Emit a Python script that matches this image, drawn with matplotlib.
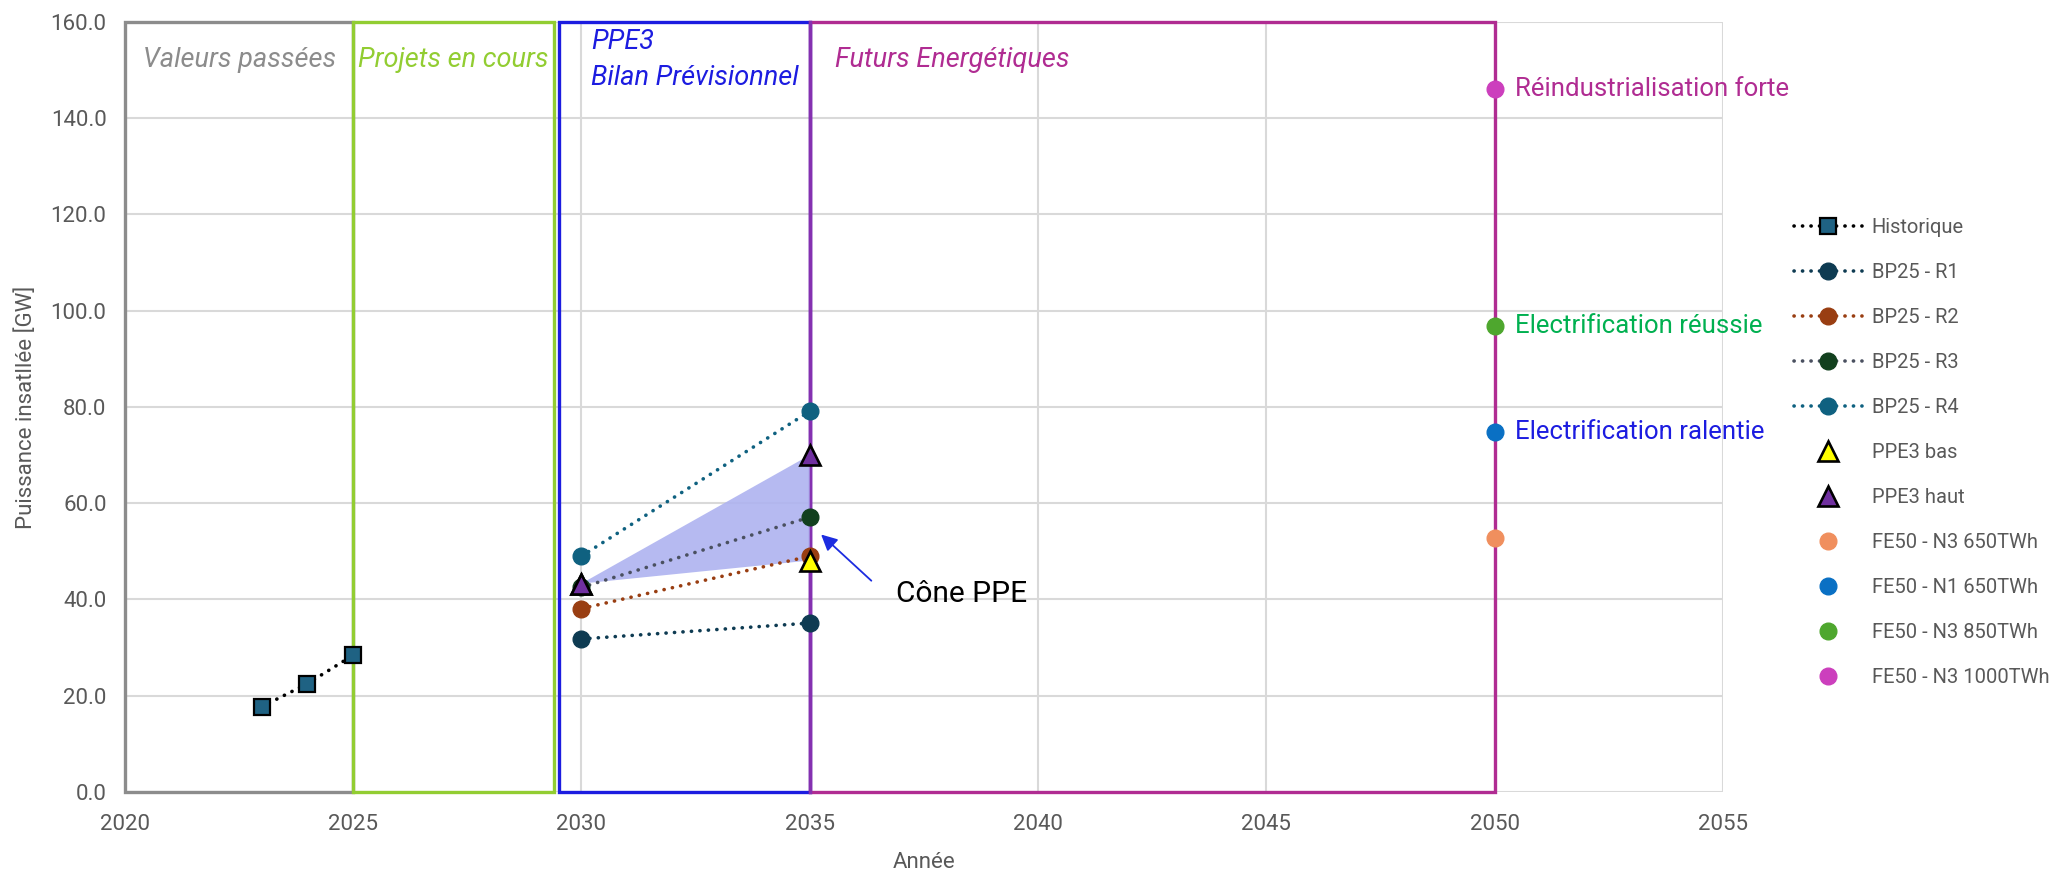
import matplotlib
matplotlib.use('Agg')
import matplotlib.pyplot as plt
from matplotlib.patches import Rectangle, Polygon
from matplotlib.ticker import FormatStrFormatter

plt.rcParams['font.family'] = ['Roboto', 'DejaVu Sans']

# Data
hist_years = [2023, 2024, 2025]
hist_values = [17.7, 22.5, 28.4]

bp_years = [2030, 2035]
bp25_r1 = [31.8, 35.1]
bp25_r2 = [38.1, 49.0]
bp25_r3 = [42.5, 57.1]
bp25_r4 = [49.0, 79.1]

ppe_years = [2030, 2035]
ppe3_bas = [43.3, 48.1]
ppe3_haut = [43.3, 70.0]

fe_year = 2050
fe50_n3_650 = 52.8
fe50_n1_650 = 74.7
fe50_n3_850 = 96.8
fe50_n3_1000 = 146.1

# Periods (start, end, label, colour, label offset)
periods = [
    (2020, 2025, 'Valeurs passées', '#8C8C8C', 0.4),
    (2025, 2029.4, 'Projets en cours', '#92CD32', 0.1),
    (2029.52, 2035, 'PPE3\nBilan Prévisionnel', '#1C1CE0', 0.7),
    (2035, 2050, 'Futurs Energétiques', '#B02C92', 0.55),
]

fig = plt.figure(figsize=(20.56, 8.73), dpi=100)
ax = fig.add_axes([0.0606, 0.0928, 0.7775, 0.882])

ax.set_xlim(2020, 2055)
ax.set_ylim(0, 160)
ax.set_xticks(range(2020, 2056, 5))
ax.set_yticks(range(0, 161, 20))
ax.yaxis.set_major_formatter(FormatStrFormatter('%.1f'))
ax.grid(True, color='#D9D9D9', linewidth=1.5)
ax.set_axisbelow(True)
for s in ax.spines.values():
    s.set_visible(False)
ax.tick_params(length=0, labelsize=16, colors='#595959')
ax.tick_params(axis='y', pad=13)
ax.tick_params(axis='x', pad=16)
ax.set_xlabel('Année', fontsize=16, color='#595959', labelpad=12)
ax.set_ylabel('Puissance insatllée [GW]', fontsize=16, color='#595959', labelpad=10)

# period boxes and titles
for x0, x1, label, col, off in periods:
    ax.add_patch(Rectangle((x0, 0), x1 - x0, 160, fill=False, edgecolor=col,
                           linewidth=2.4, zorder=2, clip_on=False))
    ax.text(x0 + off, 152.1, label, color=col, fontsize=19.5, style='italic',
            va='center', ha='left', linespacing=1.5)
# the blue and magenta edges overlap at 2035
ax.plot([2035, 2035], [0, 160], color='#8530B0', linewidth=2.4, zorder=2, clip_on=False)

# PPE cone
cone = Polygon([(ppe_years[0], ppe3_haut[0]), (ppe_years[1], ppe3_haut[1]),
                (ppe_years[1], ppe3_bas[1])], closed=True,
               facecolor='#AEB3F0', edgecolor='none', alpha=0.9, zorder=3)
ax.add_patch(cone)

dots = (0, (0.05, 2.3))
line_kw = dict(linestyle=dots, linewidth=2.6, dash_capstyle='round', markersize=12, zorder=4)
ax.plot(hist_years, hist_values, color='black', marker='s', markerfacecolor='#1F6283',
        markeredgecolor='black', markeredgewidth=1.6, label='Historique', **line_kw)
ax.plot(bp_years, bp25_r1, color='#0E3B52', marker='o', label='BP25 - R1', **line_kw)
ax.plot(bp_years, bp25_r2, color='#993E12', marker='o', label='BP25 - R2', **line_kw)
ax.plot(bp_years, bp25_r3, color='#4A5060', marker='o', markerfacecolor='#12401E',
        markeredgecolor='#12401E', label='BP25 - R3', **line_kw)
ax.plot(bp_years, bp25_r4, color='#0F6180', marker='o', label='BP25 - R4', **line_kw)

ax.plot(ppe_years, ppe3_bas, linestyle='none', marker='^', markersize=14,
        markerfacecolor='#FFFF00', markeredgecolor='black', markeredgewidth=1.9,
        label='PPE3 bas', zorder=5)
ax.plot(ppe_years, ppe3_haut, linestyle='none', marker='^', markersize=14,
        markerfacecolor='#7030A0', markeredgecolor='black', markeredgewidth=1.9,
        label='PPE3 haut', zorder=5)

ax.plot([fe_year], [fe50_n3_650], linestyle='none', marker='o', markersize=12,
        color='#F08F5E', label='FE50 - N3 650TWh', zorder=5)
ax.plot([fe_year], [fe50_n1_650], linestyle='none', marker='o', markersize=12,
        color='#0A70C4', label='FE50 - N1 650TWh', zorder=5)
ax.plot([fe_year], [fe50_n3_850], linestyle='none', marker='o', markersize=12,
        color='#4EA72E', label='FE50 - N3 850TWh', zorder=5)
ax.plot([fe_year], [fe50_n3_1000], linestyle='none', marker='o', markersize=12,
        color='#CC3FBD', label='FE50 - N3 1000TWh', zorder=5)

# scenario labels at 2050
ax.text(fe_year + 0.45, fe50_n3_1000, 'Réindustrialisation forte', color='#B02C92',
        fontsize=18.5, va='center')
ax.text(fe_year + 0.45, fe50_n3_850, 'Electrification réussie', color='#00B050',
        fontsize=18.5, va='center')
ax.text(fe_year + 0.45, fe50_n1_650, 'Electrification ralentie', color='#1C1CE0',
        fontsize=18.5, va='center')

# cone annotation
ax.annotate('', xy=(2035.25, 53.5), xytext=(2036.35, 43.9),
            arrowprops=dict(arrowstyle='-|>', color='#1C2CE0', lw=1.3,
                            mutation_scale=24, shrinkA=0, shrinkB=0))
ax.text(2036.9, 41.2, 'Cône PPE', fontsize=21.5, color='black', va='center')

ax.legend(loc='upper left', bbox_to_anchor=(1.033, 0.769), frameon=False,
          fontsize=14.5, labelspacing=1.29, handlelength=3.4, handletextpad=0.45,
          labelcolor='#595959')

fig.savefig('out.png', dpi=100)
